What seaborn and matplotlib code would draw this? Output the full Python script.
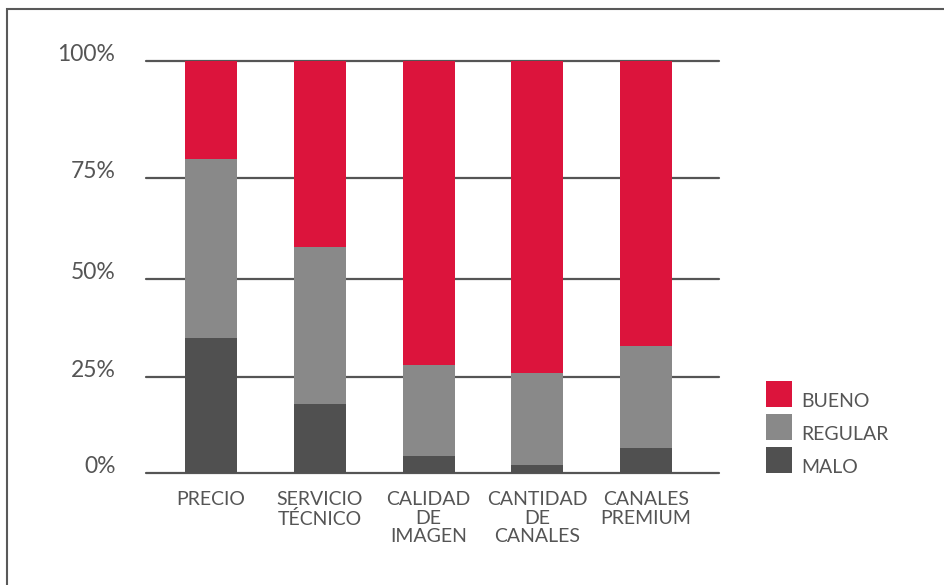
import numpy as np
import pandas as pd
import matplotlib
matplotlib.use("Agg")
import matplotlib.pyplot as plt
from matplotlib.patches import Patch, Rectangle
from matplotlib.legend_handler import HandlerPatch
import seaborn as sns

# Survey results per service aspect (percent of answers)
categories = ["PRECIO", "SERVICIO\nTÉCNICO", "CALIDAD\nDE\nIMAGEN",
              "CANTIDAD\nDE\nCANALES", "CANALES\nPREMIUM"]
malo = [35, 18, 4.5, 2, 6.5]
regular = [44, 40, 23.5, 24, 26.5]
bueno = [21, 42, 72, 74, 67]

tick_values = [0, 25, 50, 75, 100]
tick_labels = ["0%", "25%", "50%", "75%", "100%"]
series_names = ["BUENO", "REGULAR", "MALO"]

COLORS = {"BUENO": "#DC143C", "REGULAR": "#898989", "MALO": "#505050"}
TEXT = "#555555"

sns.set_theme(style="white")
plt.rcParams["font.family"] = ["Lato", "DejaVu Sans"]

df = pd.DataFrame({"cat": categories, "malo": malo,
                   "regular": regular, "bueno": bueno})
df["low"] = df["malo"]
df["mid"] = df["malo"] + df["regular"]
df["top"] = df["mid"] + df["bueno"]

fig = plt.figure(figsize=(9.44, 5.85), dpi=100)
ax = fig.add_axes([146 / 944, 1 - 473 / 585, (719 - 146) / 944, (473 - 61) / 585])

# Uneven spacing of the percentage scale
_v = [-100, 0, 25, 50, 75, 100, 200]
_p = [-384, 0, 96, 194, 295, 412, 880]


def fwd(v):
    return np.interp(v, _v, _p)


def inv(p):
    return np.interp(p, _p, _v)


bw = 52 / 108.75
# stacked bars, drawn back to front from cumulative totals
sns.barplot(data=df, x="cat", y="top", color=COLORS["BUENO"], width=bw,
            saturation=1, ax=ax, zorder=3, linewidth=0)
sns.barplot(data=df, x="cat", y="mid", color=COLORS["REGULAR"], width=bw,
            saturation=1, ax=ax, zorder=4, linewidth=0)
sns.barplot(data=df, x="cat", y="low", color=COLORS["MALO"], width=bw,
            saturation=1, ax=ax, zorder=5, linewidth=0)

ax.set_yscale("function", functions=(fwd, inv))
ax.set_ylim(0, 100)
ax.set_xlim(-(211 - 146) / 108.75, 4 + (719 - 646) / 108.75)

for v in tick_values:
    ax.axhline(v, color="#555555", lw=1.6, zorder=2, clip_on=False)

ax.set_yticks(tick_values)
ax.set_yticklabels(tick_labels)
ax.set_xlabel("")
ax.set_ylabel("")
ax.tick_params(axis="y", length=0, pad=22, labelsize=16.5, labelcolor=TEXT)
ax.tick_params(axis="x", length=0, pad=13, labelsize=14, labelcolor=TEXT)
plt.setp(ax.get_yticklabels(), va="baseline")
for lab in ax.get_xticklabels():
    lab.set_linespacing(1.12)
    lab.set_multialignment("center")

for s in ax.spines.values():
    s.set_visible(False)
ax.set_facecolor("none")


def square_on_baseline(legend, orig_handle, xdescent, ydescent, width, height, fontsize):
    # square whose bottom edge sits on the label baseline
    side = 18.72
    return Rectangle((-xdescent, 0), side, side)


handles = [Patch(facecolor=COLORS[n], edgecolor="none", label=n) for n in series_names]
leg = fig.legend(handles=handles, loc="upper left",
                 bbox_to_anchor=(766 / 944, 1 - 390 / 585),
                 handler_map={Patch: HandlerPatch(patch_func=square_on_baseline)},
                 frameon=False, fontsize=14, handlelength=1.337, handleheight=1.34,
                 labelspacing=0.57, handletextpad=0.46, borderpad=0, borderaxespad=0)
for t in leg.get_texts():
    t.set_color(TEXT)

# outer frame of the figure
fig.patches.append(Rectangle((6.7 / 944, -0.5), 2, 0.5 + 1 - 9 / 585,
                             transform=fig.transFigure, fill=False,
                             edgecolor="#595959", lw=1.5))

fig.savefig("out.png", dpi=100)
